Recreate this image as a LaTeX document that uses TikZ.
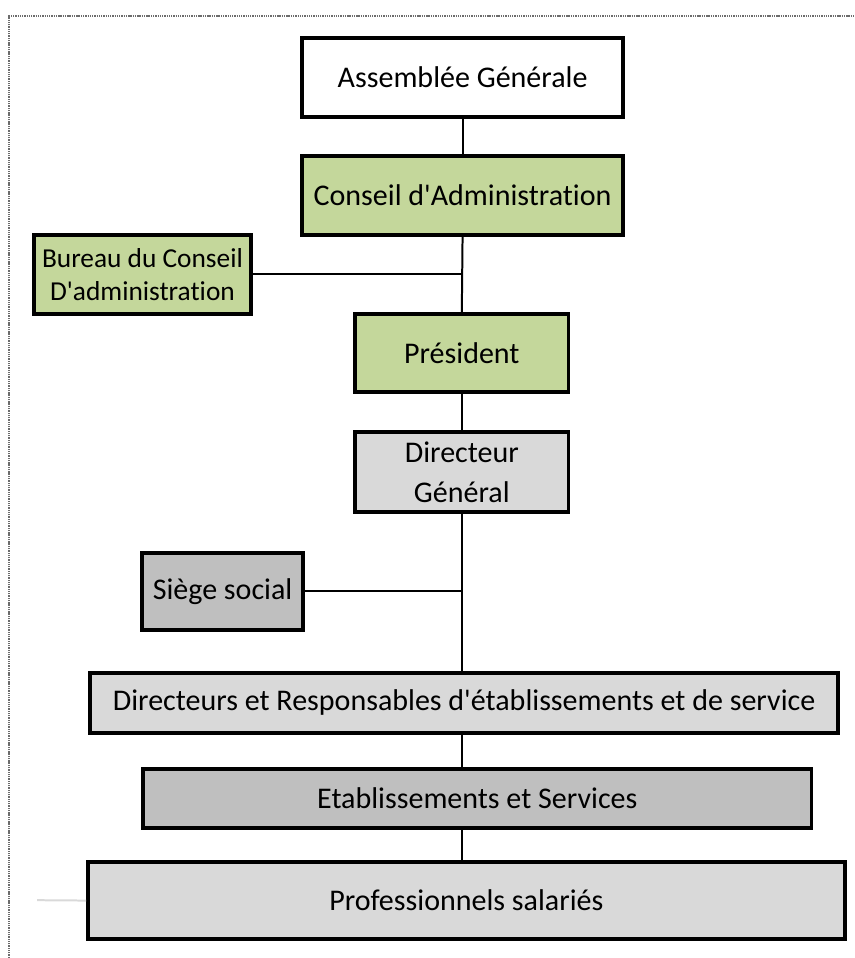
\documentclass[tikz,border=0pt]{standalone}
\usepackage{fontspec}
\setmainfont{Carlito}[Ligatures={NoCommon}]
\usepackage{tikz}
\usetikzlibrary{calc}
\definecolor{vert}{HTML}{C4D79B}
\definecolor{grisclair}{HTML}{D9D9D9}
\definecolor{grisfonce}{HTML}{BFBFBF}
\newcommand{\apos}{\textquotesingle}
\tikzstyle{orgbox} = [draw, line width=2.6pt, text centered, inner sep=0pt, font=\fontsize{22.6}{30}\selectfont, align=center]
\tikzstyle{link} = [draw, line width=1.5pt]
\begin{document}
\begin{tikzpicture}
\useasboundingbox (0,0) rectangle (22.62,-25.35);
\draw [gray!85!black, dash pattern=on 1pt off 0.7pt, line width=1.6pt] (0.24,-25.35) -- (0.24,-0.42) -- (22.62,-0.42);
\node [orgbox, fill=white, minimum width=8.49cm, minimum height=2.09cm] (ag) at (12.24,-2.05) {Assemblée Générale};
\node [orgbox, fill=vert, minimum width=8.49cm, minimum height=2.09cm] (ca) at (12.24,-5.17) {Conseil d\apos Administration};
\node [orgbox, fill=vert, minimum width=5.74cm, minimum height=2.09cm, font=\fontsize{20.6}{25}\selectfont] (bureau) at (3.77,-7.26) {Bureau du Conseil\\D\apos administration};
\node [orgbox, fill=vert, minimum width=5.66cm, minimum height=2.06cm] (pres) at (12.22,-9.34) {Président};
\node [orgbox, fill=grisclair, minimum width=5.66cm, minimum height=2.12cm] (dg) at (12.22,-12.49) {Directeur\\Général};
\node [orgbox, fill=grisfonce, minimum width=4.26cm, minimum height=2.04cm] (siege) at (5.89,-15.65) {Siège social};
\node [orgbox, fill=grisclair, minimum width=19.79cm, minimum height=1.59cm] (dir) at (12.28,-18.60) {Directeurs et Responsables d\apos établissements et de service};
\node [orgbox, fill=grisfonce, minimum width=17.70cm, minimum height=1.56cm] (etab) at (12.63,-21.13) {Etablissements et Services};
\node [orgbox, fill=grisclair, minimum width=20.03cm, minimum height=2.04cm] (prof) at (12.34,-23.83) {Professionnels salariés};
\coordinate (stub) at (0.98,-23.82);
% liens verticaux
\draw [link] (ag.south) -- (ca.north);
\draw [link] (ca.south) -- (pres.north);
\draw [link] (pres.south) -- (dg.north);
\draw [link] (dg.south) -- (dg.south |- dir.north);
\draw [link] (dg.south |- dir.south) -- (dg.south |- etab.north);
\draw [link] (dg.south |- etab.south) -- (dg.south |- prof.north);
% liens lateraux
\draw [link] (bureau.east) -- (bureau.east -| ca.south);
\draw [link] (siege.east) -- (siege.east -| dg.south);
\draw [grisclair, line width=1.5pt] (stub) -- (prof.west);
\end{tikzpicture}
\end{document}
